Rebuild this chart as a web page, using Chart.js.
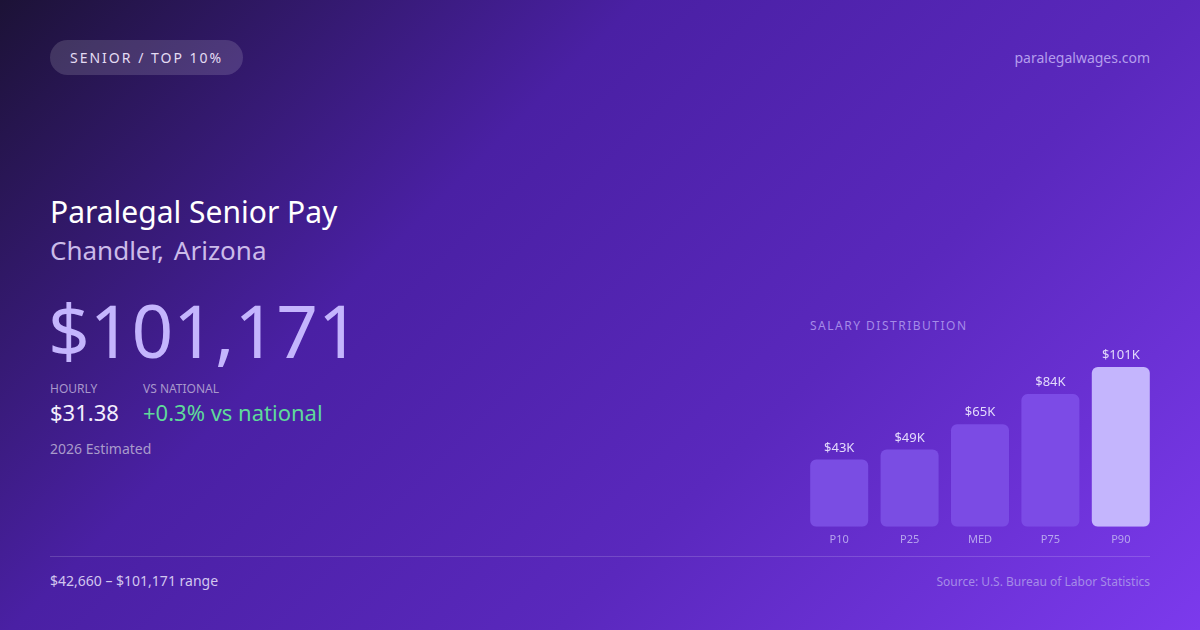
<!DOCTYPE html>
<html>
<head>
<meta charset="utf-8">
<script src="https://cdn.jsdelivr.net/npm/chart.js@4.4.1/dist/chart.umd.min.js"></script>
<style>
    html, body {
        margin: 0;
        padding: 0;
    }
    body {
        width: 1200px;
        height: 630px;
        overflow: hidden;
        font-family: 'Noto Sans', sans-serif;
    }
    .card {
        position: relative;
        width: 1200px;
        height: 630px;
        background: linear-gradient(135deg, #1c1236 0%, #4a20a4 35%, #5a28bd 65%, #7c3aed 100%);
        color: #fff;
    }
    .badge {
        position: absolute;
        left: 50px;
        top: 40px;
        height: 35px;
        padding: 0 20px;
        line-height: 35px;
        border-radius: 18px;
        background: rgba(255, 255, 255, 0.14);
        color: #e4dcf3;
        font-size: 14px;
        letter-spacing: 2px;
    }
    .site {
        position: absolute;
        right: 50px;
        top: 48px;
        font-size: 14px;
        color: #b49ded;
    }
    .title {
        position: absolute;
        left: 50px;
        top: 191px;
        font-size: 30px;
        color: #ffffff;
    }
    .place {
        position: absolute;
        left: 50px;
        top: 232px;
        font-size: 26px;
        color: #cbbbe9;
        word-spacing: 3px;
    }
    .big {
        position: absolute;
        left: 48px;
        top: 280px;
        font-size: 73px;
        line-height: 100px;
        color: #c4b5fd;
    }
    .label {
        position: absolute;
        top: 380px;
        font-size: 12px;
        color: #a898cc;
    }
    .value {
        position: absolute;
        top: 397px;
        font-size: 22px;
    }
    .est {
        position: absolute;
        left: 50px;
        top: 439px;
        font-size: 14px;
        color: #a99bcb;
    }
    .chart-title {
        position: absolute;
        left: 810px;
        top: 317px;
        font-size: 12px;
        letter-spacing: 1.5px;
        color: #a58be8;
    }
    .chart-box {
        position: absolute;
        left: 804px;
        top: 340px;
        width: 352px;
        height: 212px;
    }
    .divider {
        position: absolute;
        left: 50px;
        top: 556px;
        width: 1100px;
        height: 1px;
        background: rgba(255, 255, 255, 0.16);
    }
    .range {
        position: absolute;
        left: 50px;
        top: 571px;
        font-size: 14px;
        color: #d2c6ef;
    }
    .source {
        position: absolute;
        right: 50px;
        top: 573px;
        font-size: 12px;
        color: #a58be8;
    }
</style>
</head>
<body>
<div class="card">
    <div class="badge">SENIOR / TOP 10%</div>
    <div class="site">paralegalwages.com</div>

    <div class="title">Paralegal Senior Pay</div>
    <div class="place">Chandler, Arizona</div>
    <div class="big">$101,171</div>

    <div class="label" style="left:50px">HOURLY</div>
    <div class="label" style="left:143px">VS NATIONAL</div>
    <div class="value" style="left:50px;color:#f3eefc">$31.38</div>
    <div class="value" style="left:143px;color:#5fd99a">+0.3% vs national</div>
    <div class="est">2026 Estimated</div>

    <div class="chart-title">SALARY DISTRIBUTION</div>
    <div class="chart-box"><canvas id="salaryChart"></canvas></div>

    <div class="divider"></div>
    <div class="range">$42,660 – $101,171 range</div>
    <div class="source">Source: U.S. Bureau of Labor Statistics</div>
</div>

<script>
// Salary percentiles (annual, USD)
const percentiles = ['P10', 'P25', 'MED', 'P75', 'P90'];
const salaries = [42660, 49000, 65000, 84000, 101171];
const barColors = ['#7a4de3', '#7a4de3', '#7b4be4', '#7c4be6', '#c4b5fd'];

// Draw "$43K" style labels above each bar
const valueLabels = {
    id: 'valueLabels',
    afterDatasetsDraw(chart) {
        const ctx = chart.ctx;
        const meta = chart.getDatasetMeta(0);
        ctx.save();
        ctx.font = '13px "Noto Sans"';
        ctx.fillStyle = '#e2d9fb';
        ctx.textAlign = 'center';
        ctx.textBaseline = 'bottom';
        meta.data.forEach((bar, i) => {
            const label = '$' + Math.round(salaries[i] / 1000) + 'K';
            ctx.fillText(label, bar.x, bar.y - 5);
        });
        ctx.restore();
    }
};

new Chart(document.getElementById('salaryChart'), {
    type: 'bar',
    data: {
        labels: percentiles,
        datasets: [{
            data: salaries,
            backgroundColor: barColors,
            borderWidth: 0,
            borderRadius: 6,
            borderSkipped: false,
            categoryPercentage: 1,
            barPercentage: 0.824,
        }]
    },
    options: {
        responsive: true,
        maintainAspectRatio: false,
        animation: false,
        layout: {
            padding: { top: 27, left: 0, right: 0, bottom: 0 }
        },
        plugins: {
            legend: { display: false },
            tooltip: { enabled: false },
        },
        scales: {
            y: {
                display: false,
                beginAtZero: true,
                max: 101171,
            },
            x: {
                grid: { display: false, drawTicks: false },
                border: { display: false },
                ticks: {
                    color: '#b7a5ee',
                    padding: 6,
                    font: { family: 'Noto Sans', size: 11 },
                }
            }
        }
    },
    plugins: [valueLabels]
});
</script>
</body>
</html>
